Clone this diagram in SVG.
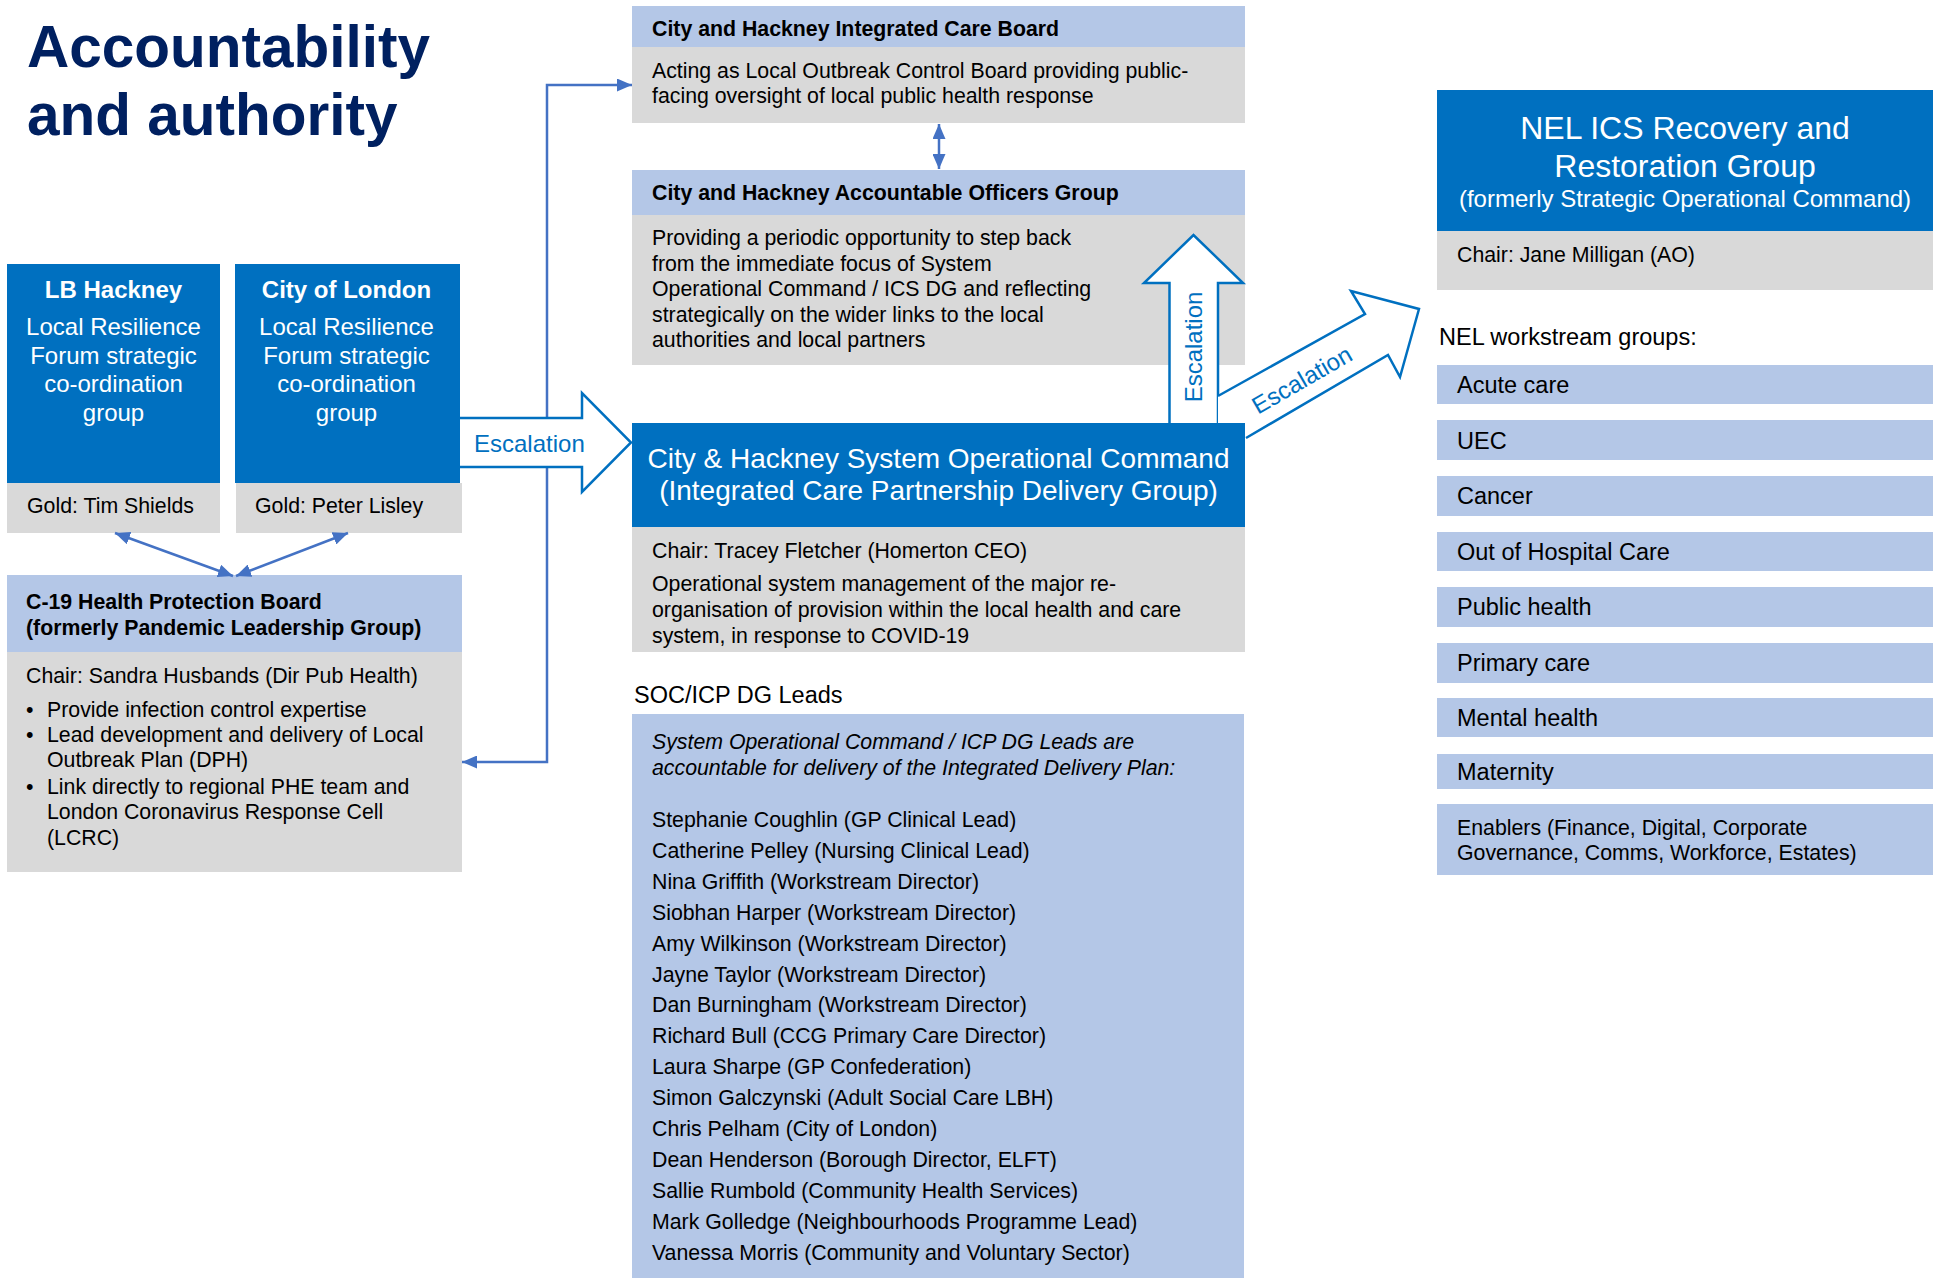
<svg xmlns="http://www.w3.org/2000/svg" width="1939" height="1278" viewBox="0 0 1939 1278">
<style>
text{font-family:"Liberation Sans",Arial,sans-serif;fill:#000}
.title{font-size:58.5px;font-weight:bold;fill:#002060}
.w24b{font-size:24px;font-weight:bold;fill:#fff}
.w24{font-size:24px;fill:#fff}
.w28{font-size:28px;fill:#fff}
.w32{font-size:32px;fill:#fff}
.t21{font-size:21.3px}
.b21{font-size:21.3px;font-weight:bold}
.i21{font-size:21.3px;font-style:italic}
.t23{font-size:23.5px}
.esc{font-size:24px;fill:#0070C0}
.blue{fill:#0070C0}
.lblue{fill:#B4C7E7}
.gray{fill:#D9D9D9}
.conn{stroke:#4472C4;stroke-width:2.5;fill:none}
.bafill{fill:#fff;stroke:none}
.baline{fill:none;stroke:#0070C0;stroke-width:2.5;stroke-linejoin:miter}
.mid{text-anchor:middle}
</style>
<defs>
<marker id="ah" viewBox="0 0 15 13" refX="15" refY="6.5" markerWidth="15" markerHeight="13" markerUnits="userSpaceOnUse" orient="auto-start-reverse">
<path d="M0,0 L15,6.5 L0,13 z" fill="#4472C4"/>
</marker>
</defs>
<rect width="1939" height="1278" fill="#fff"/>

<g id="title">
<text class="title" x="27" y="67">Accountability</text>
<text class="title" x="27" y="135">and authority</text>
</g>

<g id="lb-hackney">
<rect class="blue" x="7" y="264" width="213" height="219"/>
<rect class="gray" x="7" y="483" width="213" height="50"/>
<text class="w24b mid" x="113.5" y="298">LB Hackney</text>
<text class="w24 mid" x="113.5" y="335">Local Resilience</text>
<text class="w24 mid" x="113.5" y="363.5">Forum strategic</text>
<text class="w24 mid" x="113.5" y="392">co-ordination</text>
<text class="w24 mid" x="113.5" y="420.5">group</text>
<text class="t21" x="27" y="513">Gold: Tim Shields</text>
</g>

<g id="city-of-london">
<rect class="blue" x="235" y="264" width="225" height="219"/>
<rect class="gray" x="236" y="483" width="226" height="50"/>
<text class="w24b mid" x="346.5" y="298">City of London</text>
<text class="w24 mid" x="346.5" y="335">Local Resilience</text>
<text class="w24 mid" x="346.5" y="363.5">Forum strategic</text>
<text class="w24 mid" x="346.5" y="392">co-ordination</text>
<text class="w24 mid" x="346.5" y="420.5">group</text>
<text class="t21" x="255" y="513">Gold: Peter Lisley</text>
</g>

<g id="c19-board">
<rect class="lblue" x="7" y="575" width="455" height="77"/>
<rect class="gray" x="7" y="652" width="455" height="220"/>
<text class="b21" x="26" y="609">C-19 Health Protection Board</text>
<text class="b21" x="26" y="635">(formerly Pandemic Leadership Group)</text>
<text class="t21" x="26" y="683">Chair: Sandra Husbands (Dir Pub Health)</text>
<text class="t21" x="26" y="717">•</text>
<text class="t21" x="47" y="717">Provide infection control expertise</text>
<text class="t21" x="26" y="742">•</text>
<text class="t21" x="47" y="742">Lead development and delivery of Local</text>
<text class="t21" x="47" y="767">Outbreak Plan (DPH)</text>
<text class="t21" x="26" y="794">•</text>
<text class="t21" x="47" y="794">Link directly to regional PHE team and</text>
<text class="t21" x="47" y="819">London Coronavirus Response Cell</text>
<text class="t21" x="47" y="845">(LCRC)</text>
</g>

<g id="icb">
<rect class="lblue" x="632" y="6" width="613" height="41"/>
<rect class="gray" x="632" y="47" width="613" height="76"/>
<text class="b21" x="652" y="36">City and Hackney Integrated Care Board</text>
<text class="t21" x="652" y="78">Acting as Local Outbreak Control Board providing public-</text>
<text class="t21" x="652" y="103">facing oversight of local public health response</text>
</g>

<g id="ao-group">
<rect class="lblue" x="632" y="170" width="613" height="45"/>
<rect class="gray" x="632" y="215" width="613" height="150"/>
<text class="b21" x="652" y="200">City and Hackney Accountable Officers Group</text>
<text class="t21" x="652" y="245">Providing a periodic opportunity to step back</text>
<text class="t21" x="652" y="270.5">from the immediate focus of System</text>
<text class="t21" x="652" y="296">Operational Command / ICS DG and reflecting</text>
<text class="t21" x="652" y="321.5">strategically on the wider links to the local</text>
<text class="t21" x="652" y="347">authorities and local partners</text>
</g>

<g id="soc">
<rect class="blue" x="632" y="423" width="613" height="104"/>
<rect class="gray" x="632" y="527" width="613" height="125"/>
<text class="w28 mid" x="938.5" y="468">City &amp; Hackney System Operational Command</text>
<text class="w28 mid" x="938.5" y="500">(Integrated Care Partnership Delivery Group)</text>
<text class="t21" x="652" y="558">Chair: Tracey Fletcher (Homerton CEO)</text>
<text class="t21" x="652" y="591">Operational system management of the major re-</text>
<text class="t21" x="652" y="617">organisation of provision within the local health and care</text>
<text class="t21" x="652" y="643">system, in response to COVID-19</text>
</g>

<g id="soc-leads">
<text class="t23" x="634" y="703">SOC/ICP DG Leads</text>
<rect class="lblue" x="632" y="714" width="612" height="564"/>
<text class="i21" x="652" y="749">System Operational Command / ICP DG Leads are</text>
<text class="i21" x="652" y="775">accountable for delivery of the Integrated Delivery Plan:</text>
<text class="t21" x="652" y="827">Stephanie Coughlin (GP Clinical Lead)</text>
<text class="t21" x="652" y="857.9">Catherine Pelley (Nursing Clinical Lead)</text>
<text class="t21" x="652" y="888.8">Nina Griffith (Workstream Director)</text>
<text class="t21" x="652" y="919.7">Siobhan Harper (Workstream Director)</text>
<text class="t21" x="652" y="950.6">Amy Wilkinson (Workstream Director)</text>
<text class="t21" x="652" y="981.5">Jayne Taylor (Workstream Director)</text>
<text class="t21" x="652" y="1012.4">Dan Burningham (Workstream Director)</text>
<text class="t21" x="652" y="1043.3">Richard Bull (CCG Primary Care Director)</text>
<text class="t21" x="652" y="1074.2">Laura Sharpe (GP Confederation)</text>
<text class="t21" x="652" y="1105.1">Simon Galczynski (Adult Social Care LBH)</text>
<text class="t21" x="652" y="1136">Chris Pelham (City of London)</text>
<text class="t21" x="652" y="1166.9">Dean Henderson (Borough Director, ELFT)</text>
<text class="t21" x="652" y="1197.8">Sallie Rumbold (Community Health Services)</text>
<text class="t21" x="652" y="1228.7">Mark Golledge (Neighbourhoods Programme Lead)</text>
<text class="t21" x="652" y="1259.6">Vanessa Morris (Community and Voluntary Sector)</text>
</g>

<g id="nel-ics">
<rect class="blue" x="1437" y="90" width="496" height="141"/>
<rect class="gray" x="1437" y="231" width="496" height="59"/>
<text class="w32 mid" x="1685" y="139">NEL ICS Recovery and</text>
<text class="w32 mid" x="1685" y="177">Restoration Group</text>
<text class="w24 mid" x="1685" y="207">(formerly Strategic Operational Command)</text>
<text class="t21" x="1457" y="262">Chair: Jane Milligan (AO)</text>
</g>

<g id="nel-workstreams">
<text class="t23" x="1439" y="345">NEL workstream groups:</text>
<g id="ws-acute"><rect class="lblue" x="1437" y="365" width="496" height="39"/><text class="t23" x="1457" y="393">Acute care</text></g>
<g id="ws-uec"><rect class="lblue" x="1437" y="420" width="496" height="40"/><text class="t23" x="1457" y="448.5">UEC</text></g>
<g id="ws-cancer"><rect class="lblue" x="1437" y="476" width="496" height="40"/><text class="t23" x="1457" y="504">Cancer</text></g>
<g id="ws-ooh"><rect class="lblue" x="1437" y="532" width="496" height="39"/><text class="t23" x="1457" y="560">Out of Hospital Care</text></g>
<g id="ws-public"><rect class="lblue" x="1437" y="587" width="496" height="40"/><text class="t23" x="1457" y="615">Public health</text></g>
<g id="ws-primary"><rect class="lblue" x="1437" y="643" width="496" height="40"/><text class="t23" x="1457" y="671">Primary care</text></g>
<g id="ws-mental"><rect class="lblue" x="1437" y="698" width="496" height="39"/><text class="t23" x="1457" y="726">Mental health</text></g>
<g id="ws-maternity"><rect class="lblue" x="1437" y="754" width="496" height="35"/><text class="t23" x="1457" y="780">Maternity</text></g>
<g id="ws-enablers"><rect class="lblue" x="1437" y="804" width="496" height="71"/><text class="t21" x="1457" y="835">Enablers (Finance, Digital, Corporate</text><text class="t21" x="1457" y="860">Governance, Comms, Workforce, Estates)</text></g>
</g>

<g id="connectors">
<path class="conn" d="M462,762 H547 V85 H632" marker-start="url(#ah)" marker-end="url(#ah)"/>
<line class="conn" x1="939" y1="124" x2="939" y2="169" marker-start="url(#ah)" marker-end="url(#ah)"/>
<line class="conn" x1="115" y1="533" x2="233" y2="576" marker-start="url(#ah)" marker-end="url(#ah)"/>
<line class="conn" x1="348" y1="533" x2="236" y2="576" marker-start="url(#ah)" marker-end="url(#ah)"/>

<g id="escalation-left">
<path class="bafill" d="M460,418 H582 V393 L631,442.5 L582,492 V467 H460 Z"/>
<path class="baline" d="M460,418 H582 V393 L631,442.5 L582,492 V467 H460"/>
<text class="esc" x="474" y="452">Escalation</text>
</g>
<g id="escalation-up">
<path class="bafill" d="M1169.5,423 V283 H1144 L1193.5,235 L1243,283 H1218 V423 Z"/>
<path class="baline" d="M1169.5,423 V283 H1144 L1193.5,235 L1243,283 H1218 V423"/>
<text class="esc mid" transform="translate(1202,347) rotate(-90)">Escalation</text>
</g>
<g id="escalation-diag">
<path class="bafill" d="M1218,396 L1365,314 L1351,291 L1419,309 L1400,377 L1388,355 L1246,438 L1246,423 L1218,423 Z"/>
<path class="baline" d="M1218,396 L1365,314 L1351,291 L1419,309 L1400,377 L1388,355 L1246,438"/>
<text class="esc mid" transform="translate(1306,387) rotate(-30)">Escalation</text>
</g>
</g>
</svg>
